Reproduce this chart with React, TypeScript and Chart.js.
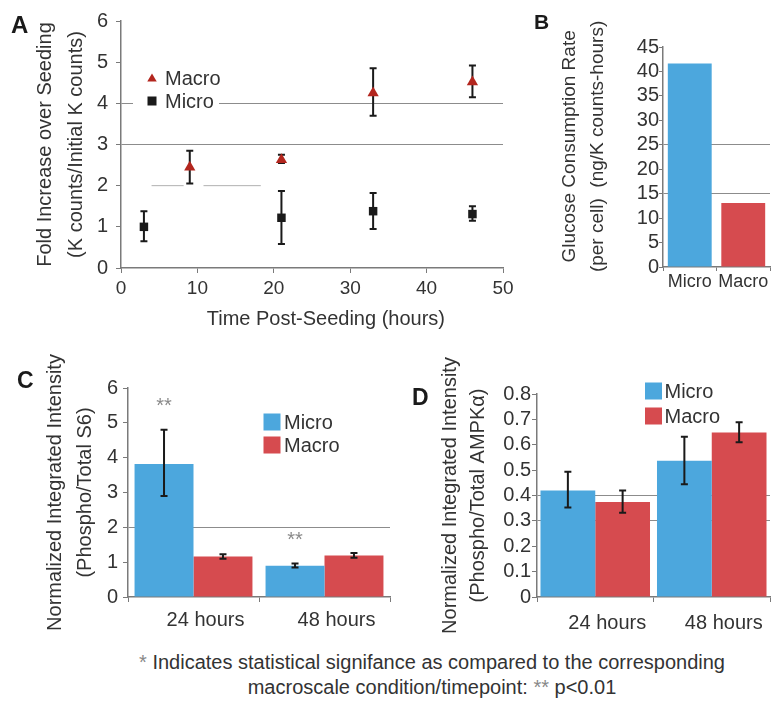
import React, { useEffect, useRef } from 'react';
import { Chart, registerables } from 'chart.js';

Chart.register(...registerables);

const FONT = "'Liberation Sans', Arial, Helvetica, sans-serif";
const TEXT = '#333333';
const AXIS = '#7a7a7a';
const GRID = '#8c8c8c';
const BLUE = '#4ca7dd';
const RED = '#d64b4f';
const DARKRED = '#b3261e';
const BLACK = '#1a1a1a';

// ---------- Panel A: fold increase over seeding ----------
const aMacroX = [9, 21, 33, 46];
const aMacroY = [2.45, 2.63, 4.25, 4.52];
const aMacroLo = [2.05, 2.55, 3.7, 4.15];
const aMacroHi = [2.85, 2.75, 4.85, 4.92];
const aMicroX = [3, 21, 33, 46];
const aMicroY = [1.0, 1.22, 1.38, 1.31];
const aMicroLo = [0.65, 0.58, 0.95, 1.15];
const aMicroHi = [1.38, 1.87, 1.82, 1.5];
const aGridY = [3, 4];
const aPartialGridY = 2;
const aPartialGridSegs = [[4, 8.2], [10.8, 18.3]];

// ---------- Panel B: glucose consumption ----------
const bCategories = ['Micro', 'Macro'];
const bValues = [41.6, 13.1];
const bGridY = [15, 25];

// ---------- Panel C: phospho / total S6 ----------
const cCategories = ['24 hours', '48 hours'];
const cMicro = [3.82, 0.9];
const cMicroLo = [2.9, 0.85];
const cMicroHi = [4.8, 0.96];
const cMacro = [1.16, 1.19];
const cMacroLo = [1.1, 1.13];
const cMacroHi = [1.23, 1.26];
const cMicroSig = ['**', '**'];
const cGridY = [2];

// ---------- Panel D: phospho / total AMPKα ----------
const dCategories = ['24 hours', '48 hours'];
const dMicro = [0.42, 0.537];
const dMicroLo = [0.353, 0.444];
const dMicroHi = [0.494, 0.632];
const dMacro = [0.374, 0.648];
const dMacroLo = [0.332, 0.61];
const dMacroHi = [0.42, 0.689];
const dGridY = [0.3, 0.4];

const near = (list: number[], v: number) => list.some((g) => Math.abs(g - v) < 1e-6);

// error bars drawn from dataset.errLo / dataset.errHi through the y scale
function drawErrorBars(chart: any) {
  const { ctx } = chart;
  const y = chart.scales.y;
  chart.data.datasets.forEach((ds: any, di: number) => {
    if (!ds.errLo) return;
    const meta = chart.getDatasetMeta(di);
    meta.data.forEach((el: any, i: number) => {
      const x = el.x;
      const yLo = y.getPixelForValue(ds.errLo[i]);
      const yHi = y.getPixelForValue(ds.errHi[i]);
      ctx.save();
      ctx.strokeStyle = BLACK;
      ctx.lineWidth = 2;
      ctx.beginPath();
      ctx.moveTo(x, yLo);
      ctx.lineTo(x, yHi);
      ctx.moveTo(x - 3.5, yLo);
      ctx.lineTo(x + 3.5, yLo);
      ctx.moveTo(x - 3.5, yHi);
      ctx.lineTo(x + 3.5, yHi);
      ctx.stroke();
      ctx.restore();
    });
  });
}

const errorBarPlugin = {
  id: 'errorBars',
  beforeDatasetsDraw(chart: any, _a: any, opts: any) {
    if (opts && opts.behind) drawErrorBars(chart);
  },
  afterDatasetsDraw(chart: any, _a: any, opts: any) {
    if (!opts || !opts.behind) drawErrorBars(chart);
  },
};

// significance marks above error bars
const sigPlugin = {
  id: 'sigMarks',
  afterDatasetsDraw(chart: any) {
    const { ctx } = chart;
    const y = chart.scales.y;
    chart.data.datasets.forEach((ds: any, di: number) => {
      if (!ds.sig) return;
      const meta = chart.getDatasetMeta(di);
      meta.data.forEach((el: any, i: number) => {
        if (!ds.sig[i]) return;
        ctx.save();
        ctx.fillStyle = '#8a8a8a';
        ctx.font = `20px ${FONT}`;
        ctx.textAlign = 'center';
        ctx.textBaseline = 'middle';
        ctx.fillText(ds.sig[i], el.x, y.getPixelForValue(ds.errHi[i]) - 23);
        ctx.restore();
      });
    });
  },
};

// partial horizontal grid segments (panel A)
const partialGridPlugin = {
  id: 'partialGrid',
  beforeDatasetsDraw(chart: any, _a: any, opts: any) {
    if (!opts || !opts.segs) return;
    const { ctx } = chart;
    const xs = chart.scales.x;
    const py = chart.scales.y.getPixelForValue(opts.y);
    ctx.save();
    ctx.strokeStyle = '#b0b0b0';
    ctx.lineWidth = 1;
    ctx.beginPath();
    opts.segs.forEach((s: number[]) => {
      ctx.moveTo(xs.getPixelForValue(s[0]), py);
      ctx.lineTo(xs.getPixelForValue(s[1]), py);
    });
    ctx.stroke();
    ctx.restore();
  },
};

// legend placed inside plot, built from the datasets
const boxLegendPlugin = {
  id: 'boxLegend',
  afterDraw(chart: any, _a: any, opts: any) {
    if (!opts || opts.x === undefined) return;
    const { ctx } = chart;
    ctx.save();
    if (opts.clear) {
      ctx.fillStyle = '#ffffff';
      ctx.fillRect(opts.clear[0], opts.clear[1], opts.clear[2], opts.clear[3]);
    }
    ctx.font = `${opts.size}px ${FONT}`;
    ctx.textBaseline = 'middle';
    ctx.textAlign = 'left';
    chart.data.datasets.forEach((ds: any, i: number) => {
      const cy = opts.y + i * opts.row;
      const color = Array.isArray(ds.backgroundColor) ? ds.backgroundColor[0] : ds.backgroundColor;
      ctx.fillStyle = color;
      const style = ds.pointStyle || 'rect';
      if (style === 'triangle') {
        const r = opts.marker / 2;
        ctx.beginPath();
        ctx.moveTo(opts.x, cy - r);
        ctx.lineTo(opts.x + r * 1.05, cy + r * 0.75);
        ctx.lineTo(opts.x - r * 1.05, cy + r * 0.75);
        ctx.closePath();
        ctx.fill();
      } else {
        const s = opts.marker;
        ctx.fillRect(opts.x - s / 2, cy - s / 2, s, s);
      }
      ctx.fillStyle = TEXT;
      ctx.fillText(ds.label, opts.x + opts.gap, cy + 1);
    });
    ctx.restore();
  },
};

Chart.register(errorBarPlugin as any, sigPlugin as any, partialGridPlugin as any, boxLegendPlugin as any);

const font = (size: number) => ({ family: FONT, size, lineHeight: 1.2 });

function useChart(ref: React.RefObject<HTMLCanvasElement>, makeConfig: () => any) {
  useEffect(() => {
    if (!ref.current) return;
    const chart = new Chart(ref.current, makeConfig());
    return () => chart.destroy();
  }, []);
}

const baseOptions = {
  responsive: false,
  maintainAspectRatio: false,
  animation: false,
  devicePixelRatio: 1,
  events: [],
};

function PanelA() {
  const ref = useRef<HTMLCanvasElement>(null);
  useChart(ref, () => ({
    type: 'scatter',
    data: {
      datasets: [
        {
          label: 'Macro',
          data: aMacroX.map((x, i) => ({ x, y: aMacroY[i] })),
          errLo: aMacroLo,
          errHi: aMacroHi,
          pointStyle: 'triangle',
          pointRadius: 6.5,
          backgroundColor: DARKRED,
          borderColor: DARKRED,
          borderWidth: 0,
        },
        {
          label: 'Micro',
          data: aMicroX.map((x, i) => ({ x, y: aMicroY[i] })),
          errLo: aMicroLo,
          errHi: aMicroHi,
          pointStyle: 'rect',
          pointRadius: 6,
          backgroundColor: BLACK,
          borderColor: BLACK,
          borderWidth: 0,
        },
      ],
    },
    options: {
      ...baseOptions,
      layout: { padding: { left: 0, right: 17, top: 21, bottom: 0 } },
      plugins: {
        legend: { display: false },
        tooltip: { enabled: false },
        errorBars: { behind: true },
        partialGrid: { y: aPartialGridY, segs: aPartialGridSegs },
        boxLegend: { x: 152, y: 78, row: 23, size: 20, marker: 9, gap: 13, clear: [133, 66, 86, 46] },
      },
      scales: {
        x: {
          type: 'linear',
          min: 0,
          max: 50,
          afterFit: (s: any) => { s.height = 72; },
          ticks: { stepSize: 10, font: font(19), color: TEXT, padding: 4 },
          grid: { drawOnChartArea: false, color: AXIS, tickColor: AXIS, tickLength: 5 },
          border: { color: AXIS, width: 1.5 },
          title: {
            display: true,
            text: '     Time Post-Seeding (hours)',
            font: font(20),
            color: TEXT,
            padding: { top: 0, bottom: 9 },
          },
        },
        y: {
          min: 0,
          max: 6,
          afterFit: (s: any) => { s.width = 121; },
          ticks: { stepSize: 1, font: font(20), color: TEXT, padding: 8, autoSkip: false },
          grid: {
            color: (c: any) => (c.tick && near(aGridY, c.tick.value) ? GRID : 'rgba(0,0,0,0)'),
            tickColor: AXIS,
            tickLength: 5,
          },
          border: { color: AXIS, width: 1.5 },
          title: {
            display: true,
            text: ['Fold Increase over Seeding', '(K counts/Initial K counts)'],
            font: { family: FONT, size: 20, lineHeight: 1.55 },
            color: TEXT,
            padding: { top: 30, bottom: 0 },
          },
        },
      },
    },
  }));
  return <canvas ref={ref} width={520} height={340} style={{ position: 'absolute', left: 0, top: 0 }} />;
}

function PanelB() {
  const ref = useRef<HTMLCanvasElement>(null);
  useChart(ref, () => ({
    type: 'bar',
    data: {
      labels: bCategories,
      datasets: [
        {
          label: 'Glucose',
          data: bValues,
          backgroundColor: [BLUE, RED],
          borderWidth: 0,
          barPercentage: 0.82,
          categoryPercentage: 1,
        },
      ],
    },
    options: {
      ...baseOptions,
      layout: { padding: { left: 0, right: 8, top: 47, bottom: 0 } },
      plugins: { legend: { display: false }, tooltip: { enabled: false } },
      scales: {
        x: {
          afterFit: (s: any) => { s.height = 43; },
          ticks: { font: font(18), color: TEXT, padding: 0, autoSkip: false, maxRotation: 0 },
          grid: { drawOnChartArea: false, color: AXIS, tickColor: AXIS, tickLength: 4 },
          border: { color: AXIS, width: 1.5 },
        },
        y: {
          min: 0,
          max: 45,
          afterFit: (s: any) => { s.width = 143; },
          ticks: { stepSize: 5, font: { family: FONT, size: 20, lineHeight: 1 }, color: TEXT, padding: 0, autoSkip: false },
          grid: {
            color: (c: any) => (c.tick && near(bGridY, c.tick.value) ? GRID : 'rgba(0,0,0,0)'),
            tickColor: AXIS,
            tickLength: 4,
          },
          border: { color: AXIS, width: 1.5 },
          title: {
            display: true,
            text: ['    Glucose Consumption Rate', '    (per cell)  (ng/K counts-hours)'],
            font: { family: FONT, size: 19, lineHeight: 1.47 },
            color: TEXT,
            padding: { top: 36, bottom: 0 },
          },
        },
      },
    },
  }));
  return <canvas ref={ref} width={258} height={310} style={{ position: 'absolute', left: 520, top: 0 }} />;
}

function barOptions(opts: any) {
  return {
    ...baseOptions,
    layout: { padding: { left: 0, right: opts.right, top: opts.top, bottom: 0 } },
    plugins: {
      legend: { display: false },
      tooltip: { enabled: false },
      boxLegend: opts.legend,
    },
    scales: {
      x: {
        afterFit: (s: any) => { s.height = 43; },
        ticks: { font: font(20), color: TEXT, padding: opts.xPad, autoSkip: false, maxRotation: 0, labelOffset: opts.labelOffset },
        grid: { drawOnChartArea: false, color: AXIS, tickColor: AXIS, tickLength: 5 },
        border: { color: AXIS, width: 1.5 },
      },
      y: {
        min: 0,
        max: opts.max,
        afterFit: (s: any) => { s.width = opts.yWidth; },
        ticks: { stepSize: opts.step, font: font(20), color: TEXT, padding: opts.yPad, autoSkip: false },
        grid: {
          color: (c: any) => (c.tick && near(opts.grid, c.tick.value) ? GRID : 'rgba(0,0,0,0)'),
          tickColor: AXIS,
          tickLength: 5,
        },
        border: { color: AXIS, width: 1.5 },
        title: {
          display: true,
          text: opts.title,
          font: { family: FONT, size: 20, lineHeight: opts.titleLH },
          color: TEXT,
          padding: { top: opts.titleTop, bottom: 0 },
        },
      },
    },
  };
}

function PanelC() {
  const ref = useRef<HTMLCanvasElement>(null);
  useChart(ref, () => ({
    type: 'bar',
    data: {
      labels: cCategories,
      datasets: [
        {
          label: 'Micro',
          data: cMicro,
          errLo: cMicroLo,
          errHi: cMicroHi,
          sig: cMicroSig,
          backgroundColor: BLUE,
          borderWidth: 0,
          barPercentage: 1,
          categoryPercentage: 0.9,
        },
        {
          label: 'Macro',
          data: cMacro,
          errLo: cMacroLo,
          errHi: cMacroHi,
          backgroundColor: RED,
          borderWidth: 0,
          barPercentage: 1,
          categoryPercentage: 0.9,
        },
      ],
    },
    options: barOptions({
      right: 10,
      top: 48,
      max: 6,
      step: 1,
      yWidth: 128,
      yPad: 5,
      xPad: 6,
      labelOffset: 12,
      grid: cGridY,
      title: ['Normalized Integrated Intensity', '(Phospho/Total S6)'],
      titleLH: 1.5,
      titleTop: 40,
      legend: { x: 272, y: 82, row: 23, size: 20, marker: 17, gap: 12 },
    }),
  }));
  return <canvas ref={ref} width={400} height={300} style={{ position: 'absolute', left: 0, top: 340 }} />;
}

function PanelD() {
  const ref = useRef<HTMLCanvasElement>(null);
  useChart(ref, () => ({
    type: 'bar',
    data: {
      labels: dCategories,
      datasets: [
        {
          label: 'Micro',
          data: dMicro,
          errLo: dMicroLo,
          errHi: dMicroHi,
          backgroundColor: BLUE,
          borderWidth: 0,
          barPercentage: 1,
          categoryPercentage: 0.94,
        },
        {
          label: 'Macro',
          data: dMacro,
          errLo: dMacroLo,
          errHi: dMacroHi,
          backgroundColor: RED,
          borderWidth: 0,
          barPercentage: 1,
          categoryPercentage: 0.94,
        },
      ],
    },
    options: barOptions({
      right: 8,
      top: 54,
      max: 0.8,
      step: 0.1,
      yWidth: 147,
      yPad: 1,
      xPad: 9,
      labelOffset: 12,
      grid: dGridY,
      title: ['Normalized Integrated Intensity', '(Phospho/Total AMPKα)'],
      titleLH: 1.4,
      titleTop: 46,
      legend: { x: 263.5, y: 51, row: 25, size: 20, marker: 17, gap: 11 },
    }),
  }));
  return <canvas ref={ref} width={388} height={300} style={{ position: 'absolute', left: 390, top: 340 }} />;
}

const panelLabel = (text: string, left: number, top: number, size: number) => (
  <div
    style={{
      position: 'absolute',
      left,
      top,
      fontFamily: FONT,
      fontWeight: 'bold',
      fontSize: size,
      lineHeight: 1,
      color: '#1a1a1a',
    }}
  >
    {text}
  </div>
);

export default function App() {
  return (
    <div
      style={{
        position: 'absolute',
        left: 0,
        top: 0,
        width: 778,
        height: 708,
        background: '#ffffff',
        overflow: 'hidden',
      }}
    >
      <PanelA />
      <PanelB />
      <PanelC />
      <PanelD />
      {panelLabel('A', 11, 13, 24)}
      {panelLabel('B', 534, 11, 21)}
      {panelLabel('C', 17, 369, 23)}
      {panelLabel('D', 412, 386, 23)}
      <div
        style={{
          position: 'absolute',
          left: 0,
          top: 650,
          width: 864,
          textAlign: 'center',
          fontFamily: FONT,
          fontSize: 20,
          lineHeight: '25px',
          color: TEXT,
        }}
      >
        <div><span style={{ color: '#888' }}>*</span> Indicates statistical signifance as compared to the corresponding</div>
        <div>macroscale condition/timepoint: <span style={{ color: '#888' }}>**</span> p&lt;0.01</div>
      </div>
    </div>
  );
}
